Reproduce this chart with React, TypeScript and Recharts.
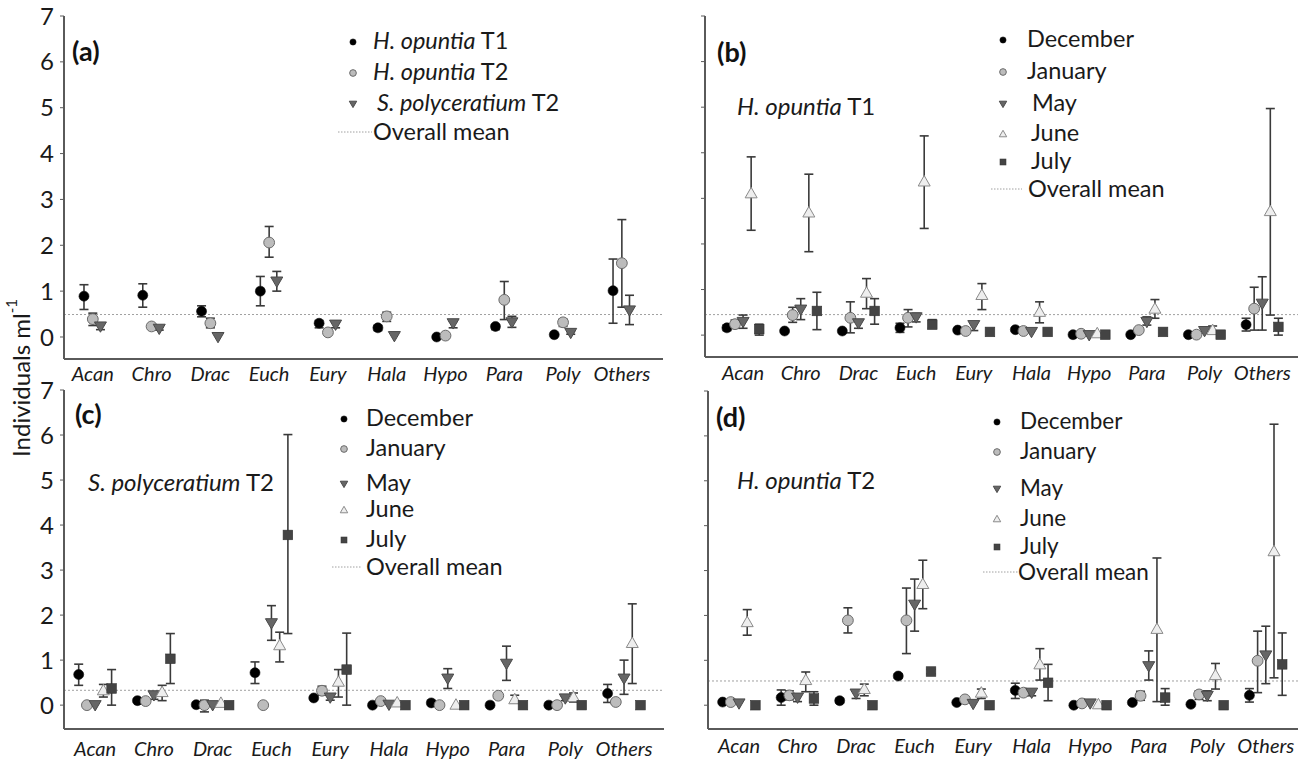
import React from 'react';
import { ScatterChart, Scatter, XAxis, YAxis, ErrorBar, ReferenceLine } from 'recharts';

const FONT = 'Lato, "Open Sans", sans-serif';
const FRAME = '#5a5a5a';

const categories = ['Acan', 'Chro', 'Drac', 'Euch', 'Eury', 'Hala', 'Hypo', 'Para', 'Poly', 'Others'];
const catIdx = categories.map((_, i) => i);
const yTicks = [0, 1, 2, 3, 4, 5, 6, 7];

// ---------- Panel (a) ----------
const aT1 = [0.89, 0.91, 0.56, 1.0, 0.3, 0.2, 0.0, 0.23, 0.05, 1.01];
const aT1Lo = [0.6, 0.65, 0.44, 0.68, 0.2, 0.14, null, 0.16, null, 0.3];
const aT1Hi = [1.14, 1.16, 0.68, 1.32, 0.36, 0.25, null, 0.27, null, 1.7];
const aT2 = [0.39, 0.23, 0.3, 2.06, 0.1, 0.45, 0.03, 0.81, 0.32, 1.61];
const aT2Lo = [0.25, 0.2, 0.2, 1.74, null, 0.34, null, 0.38, 0.23, 0.65];
const aT2Hi = [0.52, 0.26, 0.41, 2.41, null, 0.54, null, 1.21, 0.39, 2.56];
const aSP = [0.23, 0.18, 0.0, 1.21, 0.27, 0.02, 0.3, 0.32, 0.09, 0.58];
const aSPLo = [0.16, 0.15, null, 1.0, 0.2, null, 0.2, 0.21, 0.06, 0.27];
const aSPHi = [0.3, 0.21, null, 1.43, 0.32, null, 0.34, 0.45, 0.12, 0.91];
const aMean = 0.49;

// ---------- Panel (b) H. opuntia T1 ----------
const bDec = [0.16, 0.09, 0.09, 0.16, 0.11, 0.12, 0.01, 0.01, 0.01, 0.23];
const bDecLo = [0.1, null, null, 0.06, null, null, null, null, null, 0.09];
const bDecHi = [0.22, null, null, 0.26, null, null, null, null, null, 0.37];
const bJan = [0.24, 0.44, 0.38, 0.38, 0.09, 0.09, 0.03, 0.11, 0.01, 0.58];
const bJanLo = [0.15, 0.28, 0.05, 0.18, null, null, null, null, null, 0.11];
const bJanHi = [0.33, 0.61, 0.73, 0.56, null, null, null, null, null, 1.05];
const bMay = [0.29, 0.56, 0.26, 0.39, 0.22, 0.07, 0.0, 0.29, 0.09, 0.69];
const bMayLo = [0.15, 0.34, 0.15, 0.29, 0.1, null, null, 0.22, null, 0.11];
const bMayHi = [0.44, 0.8, 0.31, 0.48, 0.29, null, null, 0.4, null, 1.28];
const bJun = [3.11, 2.69, 0.93, 3.37, 0.88, 0.51, 0.04, 0.58, 0.11, 2.72];
const bJunLo = [2.3, 1.83, 0.58, 2.34, 0.56, 0.27, null, 0.37, 0.04, 0.44];
const bJunHi = [3.91, 3.53, 1.24, 4.37, 1.13, 0.73, null, 0.78, 0.2, 4.97];
const bJul = [0.13, 0.53, 0.53, 0.23, 0.07, 0.07, 0.01, 0.07, 0.01, 0.18];
const bJulLo = [0.0, 0.12, 0.24, 0.15, null, null, null, null, null, 0.0];
const bJulHi = [0.24, 0.94, 0.8, 0.34, null, null, null, null, null, 0.37];
const bMean = 0.45;

// ---------- Panel (c) S. polyceratium T2 ----------
const cDec = [0.68, 0.1, 0.01, 0.72, 0.16, 0.0, 0.05, 0.0, 0.0, 0.26];
const cDecLo = [0.44, null, null, 0.48, null, null, null, null, null, 0.06];
const cDecHi = [0.91, null, null, 0.96, null, null, null, null, null, 0.46];
const cJan = [0.0, 0.09, 0.0, 0.0, 0.32, 0.09, 0.0, 0.21, 0.0, 0.07];
const cJanLo = [null, null, -0.15, null, 0.22, null, null, 0.15, null, 0.02];
const cJanHi = [null, null, 0.11, null, 0.42, null, null, 0.27, null, 0.12];
const cMay = [0.0, 0.22, 0.0, 1.82, 0.17, 0.01, 0.59, 0.92, 0.15, 0.59];
const cMayLo = [null, 0.13, null, 1.44, 0.11, null, 0.37, 0.55, 0.1, 0.24];
const cMayHi = [null, 0.29, null, 2.21, 0.25, null, 0.81, 1.31, 0.2, 1.0];
const cJun = [0.33, 0.29, 0.05, 1.33, 0.52, 0.06, 0.01, 0.13, 0.18, 1.38];
const cJunLo = [0.18, 0.1, null, 0.96, 0.18, null, null, 0.05, 0.07, 0.48];
const cJunHi = [0.46, 0.44, null, 1.62, 0.79, null, null, 0.22, 0.27, 2.25];
const cJul = [0.37, 1.03, 0.0, 3.78, 0.79, 0.0, 0.0, 0.0, 0.0, 0.0];
const cJulLo = [0.0, 0.48, null, 1.59, 0.0, null, null, null, null, null];
const cJulHi = [0.79, 1.59, null, 6.01, 1.6, null, null, null, null, null];
const cMean = 0.33;

// ---------- Panel (d) H. opuntia T2 ----------
const dDec = [0.07, 0.17, 0.1, 0.65, 0.06, 0.33, 0.0, 0.06, 0.02, 0.22];
const dDecLo = [null, 0.0, 0.05, 0.6, null, 0.15, null, null, null, 0.07];
const dDecHi = [null, 0.34, 0.15, 0.7, null, 0.49, null, null, null, 0.37];
const dJan = [0.07, 0.22, 1.89, 1.89, 0.13, 0.28, 0.04, 0.21, 0.24, 0.99];
const dJanLo = [null, 0.12, 1.61, 1.15, null, 0.21, null, 0.11, 0.13, 0.28];
const dJanHi = [null, 0.32, 2.17, 2.61, null, 0.35, null, 0.31, 0.32, 1.65];
const dMay = [0.04, 0.17, 0.26, 2.24, 0.03, 0.28, 0.04, 0.87, 0.21, 1.11];
const dMayLo = [null, 0.08, 0.15, 1.65, null, 0.21, null, 0.56, 0.1, 0.48];
const dMayHi = [null, 0.24, 0.34, 2.81, null, 0.35, null, 1.21, 0.32, 1.76];
const dJun = [1.85, 0.56, 0.36, 2.7, 0.28, 0.91, 0.02, 1.7, 0.67, 3.43];
const dJunLo = [1.56, 0.3, 0.21, 2.15, 0.15, 0.56, null, 0.08, 0.36, 0.61];
const dJunHi = [2.13, 0.74, 0.47, 3.23, 0.36, 1.26, null, 3.28, 0.93, 6.26];
const dJul = [0.0, 0.15, 0.0, 0.75, 0.0, 0.5, 0.0, 0.17, 0.0, 0.91];
const dJulLo = [null, 0.0, null, 0.7, null, 0.1, null, 0.0, null, 0.22];
const dJulHi = [null, 0.3, null, 0.8, null, 0.91, null, 0.37, null, 1.61];
const dMean = 0.54;

type ShapeKind = 'dot' | 'gray' | 'down' | 'up' | 'square';

function Marker({ kind, cx, cy, s = 1 }: { kind: ShapeKind; cx: number; cy: number; s?: number }) {
  if (cx == null || cy == null) return null;
  switch (kind) {
    case 'dot':
      return <circle cx={cx} cy={cy} r={5 * s} fill="#000" stroke="#111" strokeWidth={0.6} />;
    case 'gray':
      return <circle cx={cx} cy={cy} r={5.4 * s} fill="#bcbcbc" stroke="#6a6a6a" strokeWidth={1} />;
    case 'down':
      return (
        <polygon
          points={`${cx - 6 * s},${cy - 4.5 * s} ${cx + 6 * s},${cy - 4.5 * s} ${cx},${cy + 5.8 * s}`}
          fill="#666"
          stroke="#4a4a4a"
          strokeWidth={1}
        />
      );
    case 'up':
      return (
        <polygon
          points={`${cx - 6 * s},${cy + 4.5 * s} ${cx + 6 * s},${cy + 4.5 * s} ${cx},${cy - 6 * s}`}
          fill="#eeeeee"
          stroke="#8a8a8a"
          strokeWidth={1}
        />
      );
    case 'square':
      return <rect x={cx - 4.8 * s} y={cy - 4.8 * s} width={9.6 * s} height={9.6 * s} fill="#444" stroke="#333" strokeWidth={0.6} />;
  }
  return null;
}

type Series = { name: string; kind: ShapeKind; vals: number[]; lo: (number | null)[]; hi: (number | null)[]; off: number };

function buildData(s: Series) {
  return s.vals.map((v, i) => {
    const l = s.lo[i];
    const h = s.hi[i];
    return {
      x: i + s.off,
      y: v,
      err: l == null || h == null ? undefined : [v - l, h - v],
    };
  });
}

const off5 = [-0.28, -0.14, 0, 0.14, 0.28];
const off3 = [-0.15, 0, 0.13];

const seriesA: Series[] = [
  { name: 'H. opuntia T1', kind: 'dot', vals: aT1, lo: aT1Lo, hi: aT1Hi, off: off3[0] },
  { name: 'H. opuntia T2', kind: 'gray', vals: aT2, lo: aT2Lo, hi: aT2Hi, off: off3[1] },
  { name: 'S. polyceratium T2', kind: 'down', vals: aSP, lo: aSPLo, hi: aSPHi, off: off3[2] },
];
const monthSeries = (
  dec: number[], decLo: any[], decHi: any[],
  jan: number[], janLo: any[], janHi: any[],
  may: number[], mayLo: any[], mayHi: any[],
  jun: number[], junLo: any[], junHi: any[],
  jul: number[], julLo: any[], julHi: any[]
): Series[] => [
  { name: 'December', kind: 'dot', vals: dec, lo: decLo, hi: decHi, off: off5[0] },
  { name: 'January', kind: 'gray', vals: jan, lo: janLo, hi: janHi, off: off5[1] },
  { name: 'May', kind: 'down', vals: may, lo: mayLo, hi: mayHi, off: off5[2] },
  { name: 'June', kind: 'up', vals: jun, lo: junLo, hi: junHi, off: off5[3] },
  { name: 'July', kind: 'square', vals: jul, lo: julLo, hi: julHi, off: off5[4] },
];
const seriesB = monthSeries(bDec, bDecLo, bDecHi, bJan, bJanLo, bJanHi, bMay, bMayLo, bMayHi, bJun, bJunLo, bJunHi, bJul, bJulLo, bJulHi);
const seriesC = monthSeries(cDec, cDecLo, cDecHi, cJan, cJanLo, cJanHi, cMay, cMayLo, cMayHi, cJun, cJunLo, cJunHi, cJul, cJulLo, cJulHi);
const seriesD = monthSeries(dDec, dDecLo, dDecHi, dJan, dJanLo, dJanHi, dMay, dMayLo, dMayHi, dJun, dJunLo, dJunHi, dJul, dJulLo, dJulHi);

const XTick = (props: any) => {
  const { x, y, payload, dy } = props;
  return (
    <text x={x} y={y + dy} textAnchor="middle" fontStyle="italic" fontSize={20} fill="#1a1a1a" fontFamily={FONT}>
      {categories[payload.value]}
    </text>
  );
};

type Box = { x: number; y: number; w: number; h: number };

function Panel({ box, xDomain, yDomain, showLabels, series, mean, labelDy }: {
  box: Box; xDomain: [number, number]; yDomain: [number, number]; showLabels: boolean; series: Series[]; mean: number; labelDy: number;
}) {
  const yw = 48;
  const xh = 34;
  const mt = 14;
  const width = yw + box.w + 1;
  const height = box.h + xh + mt;
  return (
    <div style={{ position: 'absolute', left: box.x - yw, top: box.y - mt }}>
      <ScatterChart width={width} height={height} margin={{ top: mt, right: 1, bottom: 0, left: 0 }}>
        <XAxis
          xAxisId="b"
          type="number"
          dataKey="x"
          domain={xDomain}
          ticks={catIdx}
          interval={0}
          allowDataOverflow
          tickLine={false}
          tickSize={0}
          tickMargin={0}
          tick={<XTick dy={labelDy} />}
          height={xh}
          axisLine={{ stroke: FRAME, strokeWidth: 2 }}
        />
        <XAxis
          xAxisId="t"
          orientation="top"
          type="number"
          domain={xDomain}
          allowDataOverflow
          tick={false}
          tickLine={false}
          height={0}
          axisLine={{ stroke: FRAME, strokeWidth: 2 }}
        />
        <YAxis
          yAxisId="l"
          type="number"
          dataKey="y"
          domain={yDomain}
          ticks={yTicks}
          interval={0}
          allowDataOverflow
          width={yw}
          tickSize={4}
          tickMargin={6}
          tickLine={{ stroke: FRAME, strokeWidth: 1 }}
          tickFormatter={(v: number) => (showLabels ? String(v) : '')}
          tick={{ fontSize: 24, fill: '#1a1a1a', fontFamily: FONT }}
          axisLine={{ stroke: FRAME, strokeWidth: 2 }}
        />
        <YAxis
          yAxisId="r"
          orientation="right"
          type="number"
          domain={yDomain}
          allowDataOverflow
          tick={false}
          tickLine={false}
          width={0}
          axisLine={{ stroke: FRAME, strokeWidth: 2 }}
        />
        <ReferenceLine xAxisId="b" yAxisId="l" y={mean} stroke="#a0a0a0" strokeWidth={1} strokeDasharray="2 2" />
        {series.map((s) => (
          <Scatter
            key={s.name}
            name={s.name}
            xAxisId="b"
            yAxisId="l"
            data={buildData(s)}
            isAnimationActive={false}
            shape={(p: any) => <Marker kind={s.kind} cx={p.cx} cy={p.cy} />}
          >
            <ErrorBar dataKey="err" direction="y" width={4.5} stroke="#3a3a3a" strokeWidth={1.6} isAnimationActive={false} />
          </Scatter>
        ))}
      </ScatterChart>
    </div>
  );
}

type LegendRow = { kind: ShapeKind | 'line'; y: number; tx: number; italic?: string; rest: string };

function Legend({ mx, lineX1, lineX2, rows, fs = 23.5 }: { mx: number; lineX1: number; lineX2: number; rows: LegendRow[]; fs?: number }) {
  return (
    <g>
      {rows.map((r, i) => (
        <g key={i}>
          {r.kind === 'line' ? (
            <line x1={lineX1} x2={lineX2} y1={r.y + 1} y2={r.y + 1} stroke="#a0a0a0" strokeWidth={1} strokeDasharray="1.5 1.5" />
          ) : (
            <Marker kind={r.kind} cx={mx} cy={r.y + 2} s={0.62} />
          )}
          <text x={r.tx} y={r.y} dominantBaseline="central" fontSize={fs} fill="#1a1a1a" fontFamily={FONT}>
            {r.italic ? <tspan fontStyle="italic">{r.italic}</tspan> : null}
            {r.rest}
          </text>
        </g>
      ))}
    </g>
  );
}

const monthRows = (ys: number[], tx: number[]): LegendRow[] => [
  { kind: 'dot', y: ys[0], tx: tx[0], rest: 'December' },
  { kind: 'gray', y: ys[1], tx: tx[1], rest: 'January' },
  { kind: 'down', y: ys[2], tx: tx[2], rest: 'May' },
  { kind: 'up', y: ys[3], tx: tx[3], rest: 'June' },
  { kind: 'square', y: ys[4], tx: tx[4], rest: 'July' },
  { kind: 'line', y: ys[5], tx: tx[5], rest: 'Overall mean' },
];

export default function App() {
  return (
    <div style={{ position: 'absolute', left: 0, top: 0, width: 1300, height: 760, background: '#fff', overflow: 'hidden', fontFamily: FONT }}>
      <Panel box={{ x: 64, y: 16, w: 599, h: 343 }} xDomain={[-0.49, 9.7]} yDomain={[-0.48, 7]} showLabels series={seriesA} mean={aMean} labelDy={22} />
      <Panel box={{ x: 705, y: 16, w: 593, h: 341 }} xDomain={[-0.66, 9.62]} yDomain={[-0.48, 7]} showLabels={false} series={seriesB} mean={bMean} labelDy={23} />
      <Panel box={{ x: 64, y: 390, w: 600, h: 339 }} xDomain={[-0.53, 9.68]} yDomain={[-0.53, 7]} showLabels series={seriesC} mean={cMean} labelDy={27} />
      <Panel box={{ x: 708, y: 391, w: 590, h: 338 }} xDomain={[-0.53, 9.55]} yDomain={[-0.53, 7]} showLabels={false} series={seriesD} mean={dMean} labelDy={24} />

      <svg width={1300} height={760} style={{ position: 'absolute', left: 0, top: 0, pointerEvents: 'none' }}>
        {/* panel letters */}
        <text x={72} y={50} dominantBaseline="central" fontSize={27} fontWeight="bold" fontFamily={FONT} fill="#111">(a)</text>
        <text x={717} y={51} dominantBaseline="central" fontSize={27} fontWeight="bold" fontFamily={FONT} fill="#111">(b)</text>
        <text x={75} y={413} dominantBaseline="central" fontSize={27} fontWeight="bold" fontFamily={FONT} fill="#111">(c)</text>
        <text x={716} y={416} dominantBaseline="central" fontSize={27} fontWeight="bold" fontFamily={FONT} fill="#111">(d)</text>

        {/* panel subtitles */}
        <text x={737} y={105} dominantBaseline="central" fontSize={24} fontFamily={FONT} fill="#1a1a1a">
          <tspan fontStyle="italic">H. opuntia</tspan> T1
        </text>
        <text x={88} y={481} dominantBaseline="central" fontSize={24} fontFamily={FONT} fill="#1a1a1a">
          <tspan fontStyle="italic">S. polyceratium</tspan> T2
        </text>
        <text x={737} y={479} dominantBaseline="central" fontSize={24} fontFamily={FONT} fill="#1a1a1a">
          <tspan fontStyle="italic">H. opuntia</tspan> T2
        </text>

        {/* legends */}
        <Legend
          mx={353}
          lineX1={338}
          lineX2={372}
          rows={[
            { kind: 'dot', y: 40, tx: 373, italic: 'H. opuntia', rest: ' T1' },
            { kind: 'gray', y: 71, tx: 373, italic: 'H. opuntia', rest: ' T2' },
            { kind: 'down', y: 102, tx: 377, italic: 'S. polyceratium', rest: ' T2' },
            { kind: 'line', y: 131, tx: 373, rest: 'Overall mean' },
          ]}
        />
        <Legend mx={1003} lineX1={991} lineX2={1022} rows={monthRows([38, 70, 102, 132, 160, 188], [1027, 1027, 1032, 1031, 1031, 1028])} />
        <Legend mx={344} lineX1={332} lineX2={362} rows={monthRows([417, 447, 482, 508, 538, 566], [366, 366, 366, 366, 366, 366])} />
        <Legend mx={997} lineX1={983} lineX2={1018} fs={22.5} rows={monthRows([420, 450, 487, 517, 545, 571], [1020, 1020, 1020, 1020, 1020, 1018])} />

        {/* y axis title */}
        <text
          transform="translate(20,378) rotate(-90)"
          textAnchor="middle"
          dominantBaseline="central"
          fontSize={24}
          fontFamily={FONT}
          fill="#1a1a1a"
        >
          Individuals ml<tspan fontSize={15} dy={-9}>-1</tspan>
        </text>
      </svg>
    </div>
  );
}
